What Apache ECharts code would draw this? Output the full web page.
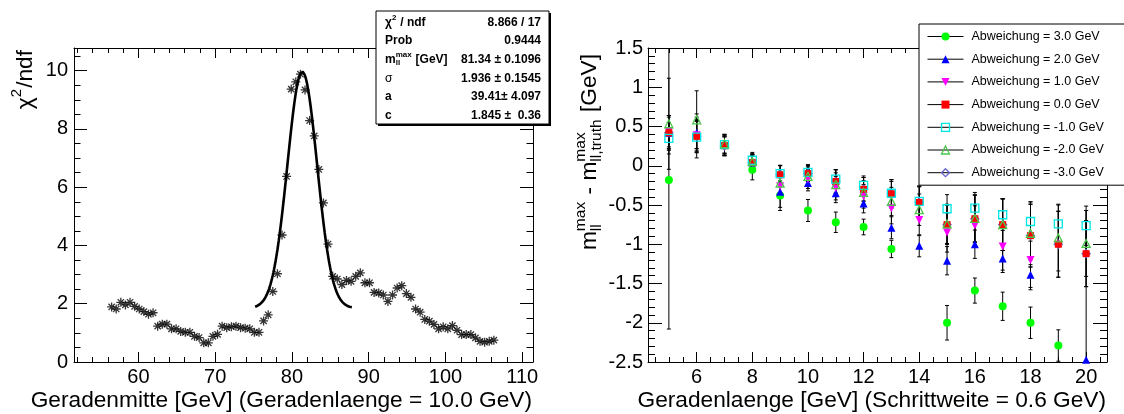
<!DOCTYPE html>
<html><head><meta charset="utf-8">
<script src="https://cdn.jsdelivr.net/npm/echarts@6/dist/echarts.min.js"></script>
<style>html,body{margin:0;padding:0;background:#fff}#c{width:1124px;height:414px}</style>
</head><body><div id="c"></div>
<script>
// ---------------- left panel: chi2/ndf scan ----------------
const scanCentres = [56.5,57.1,57.7,58.3,58.9,59.5,60.1,60.7,61.3,61.9,62.5,63.1,63.7,64.3,64.9,65.5,66.1,66.7,67.3,67.9,68.5,69.1,69.7,70.3,70.9,71.5,72.1,72.7,73.3,73.9,74.5,75.1,75.7,76.3,76.9,77.5,78.1,78.7,79.3,79.9,80.5,81.1,81.7,82.3,82.9,83.5,84.1,84.7,85.3,85.9,86.5,87.1,87.7,88.3,88.9,89.5,90.1,90.7,91.3,91.9,92.5,93.1,93.7,94.3,94.9,95.5,96.1,96.7,97.3,97.9,98.5,99.1,99.7,100.3,100.9,101.5,102.1,102.7,103.3,103.9,104.5,105.1,105.7,106.3];
const chi2ndf = [1.89,1.82,2.05,1.96,2.05,1.91,1.82,1.73,1.64,1.69,
  1.23,1.30,1.30,1.14,1.14,1.05,1.02,1.02,0.88,0.84,
  0.66,0.66,0.88,0.95,1.23,1.18,1.21,1.23,1.18,1.16,
  1.14,1.02,1.02,1.41,1.62,2.42,3.03,4.36,
  6.37,9.37,9.62,9.88,9.34,8.29,7.76,6.61,
  5.46,4.05,2.94,2.85,2.66,2.80,2.77,2.94,3.06,2.72,
  2.72,2.39,2.37,2.30,2.08,2.30,2.54,2.62,2.35,2.22,
  1.82,1.71,1.46,1.40,1.29,1.14,1.21,1.14,1.25,1.09,
  0.94,0.94,0.94,0.83,0.71,0.68,0.71,0.75];
// fit parameters (gaussian + constant) shown in the stats box
const fitMean = 81.34, fitSigma = 1.936, fitA = 39.41, fitC = 1.845;
const fitRange = [75.2, 87.8];
const leftXTickLabels = [60,70,80,90,100,110];
const leftYTickLabels = [0,2,4,6,8,10];
const statsLabels = ['chi2', 'Prob', 'mll', 'σ', 'a', 'c'];
const statsValues = ['8.866 / 17', '0.9444', '81.34 ± 0.1096', '1.936 ± 0.1545', '39.41± 4.097', '1.845 ±  0.36'];

// ---------------- right panel: deviation vs line length ----------------
const lineLengths = [5,6,7,8,9,10,11,12,13,14,15,16,17,18,19,20];
const rightXTickLabels = [6,8,10,12,14,16,18,20];
const rightYTickLabels = [-2.5,-2,-1.5,-1,-0.5,0,0.5,1,1.5];
const seriesNames = ['Abweichung = 3.0 GeV','Abweichung = 2.0 GeV','Abweichung = 1.0 GeV','Abweichung = 0.0 GeV','Abweichung = -1.0 GeV','Abweichung = -2.0 GeV','Abweichung = -3.0 GeV'];
const devP3 = [-0.18,0.38,0.26,-0.05,-0.38,-0.57,-0.72,-0.78,-1.06,null,-2.0,-1.59,-1.79,-2.0,-2.29,null];
const errP3 = [1.9,0.28,0.13,0.13,0.19,0.14,0.13,0.1,0.11,null,0.22,0.16,0.18,0.2,0.2,null];
const devP2 = [0.42,0.42,0.28,0.04,-0.33,-0.22,-0.35,-0.48,-0.79,-1.02,-1.21,-1.0,-1.18,-1.39,null,-2.47];
const errP2 = [0.2,0.2,0.12,0.1,0.2,0.1,0.12,0.12,0.14,0.14,0.18,0.18,0.18,0.19,null,1.9];
const devP1 = [0.44,0.39,0.245,0.035,-0.26,-0.17,-0.285,-0.39,-0.54,-0.69,-0.85,-0.76,-1.03,-1.2,null,null];
const errP1 = [0.2,0.2,0.12,0.1,0.15,0.12,0.15,0.15,0.2,0.2,0.25,0.25,0.3,0.35,null,null];
const dev0  = [0.42,0.375,0.255,0.04,-0.115,-0.10,-0.20,-0.30,-0.357,-0.467,-0.75,-0.675,-0.75,-0.89,-1.0,-1.12];
const err0  = [0.22,0.2,0.12,0.1,0.12,0.1,0.15,0.15,0.18,0.2,0.25,0.3,0.33,0.4,0.42,0.42];
const devM1 = [0.35,0.365,0.27,0.07,-0.10,-0.085,-0.17,-0.25,-0.35,-0.455,-0.548,-0.54,-0.624,-0.71,-0.74,-0.764];
const errM1 = [0.2,0.2,0.12,0.1,0.1,0.1,0.12,0.12,0.15,0.2,0.18,0.2,0.2,0.25,0.25,0.25];
const devM2 = [0.535,0.585,0.28,0.055,-0.22,-0.135,-0.24,-0.34,-0.455,-0.56,-0.74,-0.67,-0.75,-0.86,-0.92,-0.99];
const errM2 = [0.58,0.37,0.12,0.1,0.15,0.12,0.15,0.15,0.18,0.2,0.25,0.3,0.33,0.4,0.42,0.42];
const devM3 = [0.42,0.375,0.255,0.04,-0.115,-0.10,-0.20,-0.30,-0.357,-0.467,-0.75,-0.675,-0.75,-0.89,-1.0,-1.12];
const errM3 = [0.22,0.2,0.12,0.1,0.12,0.1,0.15,0.15,0.18,0.2,0.25,0.3,0.33,0.4,0.42,0.42];

// ---------------- styling ----------------
const FONT = 'Liberation Sans, Arial, Helvetica, sans-serif';
const seriesStyle = [
  {sym:'circle',   size:8, color:'#00ff00', open:false, rot:0},
  {sym:'triangle', size:8, color:'#0000ff', open:false, rot:0},
  {sym:'triangle', size:8, color:'#ff00ff', open:false, rot:180},
  {sym:'rect',     size:7, color:'#ff0000', open:false, rot:0},
  {sym:'rect',     size:8, color:'#00e5e5', open:true,  rot:0},
  {sym:'triangle', size:8, color:'#4cc44c', open:true,  rot:0},
  {sym:'diamond',  size:8, color:'#6666cc', open:true,  rot:0}
];
const devs = [devP3, devP2, devP1, dev0, devM1, devM2, devM3];
const errs = [errP3, errP2, errP1, err0, errM1, errM2, errM3];

const ctx2d = document.createElement('canvas').getContext('2d');
function measure(t, size, weight) { ctx2d.font = (weight||'normal') + ' ' + size + 'px ' + FONT; return ctx2d.measureText(t).width; }
function mathLabel(spec) {
  const S = spec.size, s2 = spec.small, wt = spec.weight || 'normal';
  let cx = 0; const kids = [];
  const txt = (t, x, y, sz) => ({type:'text', z:101, x:x, y:y, style:{text:t, fontSize:sz, fontFamily:FONT, fontWeight:wt, fill:'#000', align:'left', verticalAlign:'middle'}});
  spec.tokens.forEach(tk => {
    if (tk.t !== undefined) { kids.push(txt(tk.t, cx, 0, S)); cx += measure(tk.t, S, wt); }
    else {
      let w = 0;
      if (tk.sup) { kids.push(txt(tk.sup, cx, -S*0.40, s2)); w = Math.max(w, measure(tk.sup, s2, wt)); }
      if (tk.sub) { kids.push(txt(tk.sub, cx, S*0.30, s2)); w = Math.max(w, measure(tk.sub, s2, wt)); }
      cx += w + S*0.05;
    }
  });
  const off = spec.align === 'right' ? -cx : (spec.align === 'center' ? -cx/2 : 0);
  kids.forEach(k => { k.x += off; });
  return {type:'group', x:spec.x, y:spec.y, rotation:spec.rotation||0, z:101, children:kids};
}

// asterisk marker (ROOT style 3)
const asterisk = 'path://M0,5L10,5M5,0L5,10M1.5,1.5L8.5,8.5M1.5,8.5L8.5,1.5';

// fit curve from the fitted parameters
const fitCurve = [];
for (let i = 0; i <= 160; i++) {
  const x = fitRange[0] + (fitRange[1]-fitRange[0]) * i / 160;
  const z = (x - fitMean) / fitSigma;
  fitCurve.push([x, fitC + fitA / (fitSigma*Math.sqrt(2*Math.PI)) * Math.exp(-0.5*z*z)]);
}

function baseAxis(extra) {
  return Object.assign({
    type:'value', splitLine:{show:false},
    axisLine:{show:true, onZero:false, lineStyle:{color:'#000', width:1}},
    axisLabel:{show:false},
    silent:true
  }, extra);
}
const lblStyle = (list, margin) => ({show:true, color:'#000', fontSize:20, fontFamily:FONT, margin:margin,
  formatter: v => { const m = list.find(t => Math.abs(t - v) < 1e-6); return m === undefined ? '' : String(m); }});
const tick = len => ({show:true, inside:true, length:len, lineStyle:{color:'#000'}});
const minor = (n, len) => ({show:true, splitNumber:n, length:len, lineStyle:{color:'#000'}});

const xAxes = [
  baseAxis({gridIndex:0, position:'bottom', min:51.6, max:111.4, splitNumber:5, axisTick:tick(10), minorTick:minor(5,5), axisLabel:lblStyle(leftXTickLabels, 5)}),
  baseAxis({gridIndex:0, position:'top',    min:51.6, max:111.4, splitNumber:5, axisTick:tick(10), minorTick:minor(5,5)}),
  baseAxis({gridIndex:1, position:'bottom', min:4.25, max:20.75, splitNumber:8, axisTick:tick(10), minorTick:minor(4,5), axisLabel:lblStyle(rightXTickLabels, 5)}),
  baseAxis({gridIndex:1, position:'top',    min:4.25, max:20.75, splitNumber:8, axisTick:tick(10), minorTick:minor(4,5)})
];
const yAxes = [
  baseAxis({gridIndex:0, position:'left',  min:0, max:10.78, interval:2, axisTick:tick(13), minorTick:minor(4,6.5), axisLabel:lblStyle(leftYTickLabels, 6)}),
  baseAxis({gridIndex:0, position:'right', min:0, max:10.78, interval:2, axisTick:tick(13), minorTick:minor(4,6.5)}),
  baseAxis({gridIndex:1, position:'left',  min:-2.5, max:1.5, interval:0.5, axisTick:tick(14), minorTick:minor(5,7), axisLabel:lblStyle(rightYTickLabels, 5)}),
  baseAxis({gridIndex:1, position:'right', min:-2.5, max:1.5, interval:0.5, axisTick:tick(14), minorTick:minor(5,7)})
];

const series = [];
series.push({type:'scatter', xAxisIndex:0, yAxisIndex:0, z:3,
  data: scanCentres.map((x,i) => [x, chi2ndf[i]]),
  symbol: asterisk, symbolSize: 9,
  itemStyle:{color:'rgba(0,0,0,0)', borderColor:'#000', borderWidth:1.3}});
series.push({type:'line', xAxisIndex:0, yAxisIndex:0, z:4, data:fitCurve, showSymbol:false,
  lineStyle:{color:'#000', width:2.6}});

// error bars
devs.forEach((d, k) => {
  const data = [];
  d.forEach((v, i) => { if (v !== null) data.push([lineLengths[i], v, errs[k][i]]); });
  series.push({type:'custom', xAxisIndex:2, yAxisIndex:2, z:2, clip:true, silent:true, data:data,
    renderItem:(params, api) => {
      const x = api.value(0), y = api.value(1), e = api.value(2);
      const a = api.coord([x, y + e]), b = api.coord([x, y - e]);
      const st = {stroke:'#000', lineWidth:1};
      return {type:'group', children:[
        {type:'line', shape:{x1:a[0], y1:a[1], x2:b[0], y2:b[1]}, style:st},
        {type:'line', shape:{x1:a[0]-2, y1:a[1], x2:a[0]+2, y2:a[1]}, style:st},
        {type:'line', shape:{x1:b[0]-2, y1:b[1], x2:b[0]+2, y2:b[1]}, style:st}
      ]};
    }});
});
// markers (the -3.0 GeV series drawn first: it sits under the 0.0 GeV markers)
[6,0,1,2,3,4,5].forEach(k => {
  const s = seriesStyle[k];
  series.push({type:'line', name:seriesNames[k], xAxisIndex:2, yAxisIndex:2, z:3,
    data: lineLengths.map((x,i) => [x, devs[k][i]]),
    showSymbol:true, symbol:s.sym, symbolSize:s.size, symbolRotate:s.rot,
    lineStyle:{opacity:0}, connectNulls:false,
    itemStyle: s.open ? {color:'rgba(0,0,0,0)', borderColor:s.color, borderWidth:1.3} : {color:s.color, borderWidth:0}});
});

const graphics = [
  // stats box with shadow
  {type:'rect', z:99, shape:{x:378, y:13, width:173, height:113}, style:{fill:'#000'}},
  {type:'rect', z:100, shape:{x:376, y:11, width:173, height:113}, style:{fill:'#fff', stroke:'#000', lineWidth:1}},
  // legend shadow
  {type:'rect', z:5, shape:{x:921, y:26, width:205, height:159}, style:{fill:'#000'}}
];
const rowY = [22.4, 41.0, 59.6, 78.2, 96.8, 115.4];
graphics.push(mathLabel({x:385, y:rowY[0], size:12, small:8, weight:'bold', tokens:[{t:'χ'},{sup:'2'},{t:' / ndf'}]}));
graphics.push(mathLabel({x:385, y:rowY[1], size:12, small:8, weight:'bold', tokens:[{t:statsLabels[1]}]}));
graphics.push(mathLabel({x:385, y:rowY[2], size:12, small:8, weight:'bold', tokens:[{t:'m'},{sup:'max', sub:'ll'},{t:' [GeV]'}]}));
graphics.push(mathLabel({x:385, y:rowY[3], size:12, small:8, weight:'normal', tokens:[{t:statsLabels[3]}]}));
graphics.push(mathLabel({x:385, y:rowY[4], size:12, small:8, weight:'bold', tokens:[{t:statsLabels[4]}]}));
graphics.push(mathLabel({x:385, y:rowY[5], size:12, small:8, weight:'bold', tokens:[{t:statsLabels[5]}]}));
statsValues.forEach((v, i) => graphics.push({type:'text', z:101, x:541, y:rowY[i],
  style:{text:v, fontSize:12, fontWeight:'bold', fontFamily:FONT, fill:'#000', align:'right', verticalAlign:'middle'}}));
// axis titles
graphics.push({type:'text', z:101, x:532, y:401, style:{text:'Geradenmitte [GeV] (Geradenlaenge = 10.0 GeV)', fontSize:22.7, fontFamily:FONT, fill:'#000', align:'right', verticalAlign:'middle'}});
graphics.push({type:'text', z:101, x:1106, y:401, style:{text:'Geradenlaenge [GeV] (Schrittweite = 0.6 GeV)', fontSize:22.7, fontFamily:FONT, fill:'#000', align:'right', verticalAlign:'middle'}});
graphics.push(mathLabel({x:26, y:50, size:22.7, small:15, rotation:Math.PI/2, align:'right', tokens:[{t:'χ'},{sup:'2'},{t:'/ndf'}]}));
graphics.push(mathLabel({x:590, y:54, size:22.7, small:15.5, rotation:Math.PI/2, align:'right', tokens:[{t:'m'},{sup:'max', sub:'ll'},{t:' - m'},{sup:'max', sub:'ll,truth'},{t:' [GeV]'}]}));

const option = {
  animation:false,
  grid:[{left:74, top:48, width:459, height:314}, {left:648, top:48, width:459, height:314}],
  xAxis:xAxes, yAxis:yAxes, series:series, graphic:graphics,
  legend:{z:6, orient:'vertical', left:919, top:24, padding:[6,24,6,8], itemWidth:36, itemHeight:10, itemGap:9.7,
    backgroundColor:'#fff', borderColor:'#000', borderWidth:1,
    selectedMode:false, textStyle:{fontFamily:FONT, fontSize:12.5, color:'#000', lineHeight:10, padding:[0,0,0,3]},
    lineStyle:{color:'#000', width:1, opacity:1, type:'solid'},
    data: seriesNames.map((n, k) => ({name:n, itemStyle: seriesStyle[k].open
      ? {color:'rgba(0,0,0,0)', borderColor:seriesStyle[k].color, borderWidth:1.3}
      : {color:seriesStyle[k].color, borderWidth:0}}))}
};
const chart = echarts.init(document.getElementById('c'), null, {renderer:'canvas'});
chart.setOption(option);
</script></body></html>
